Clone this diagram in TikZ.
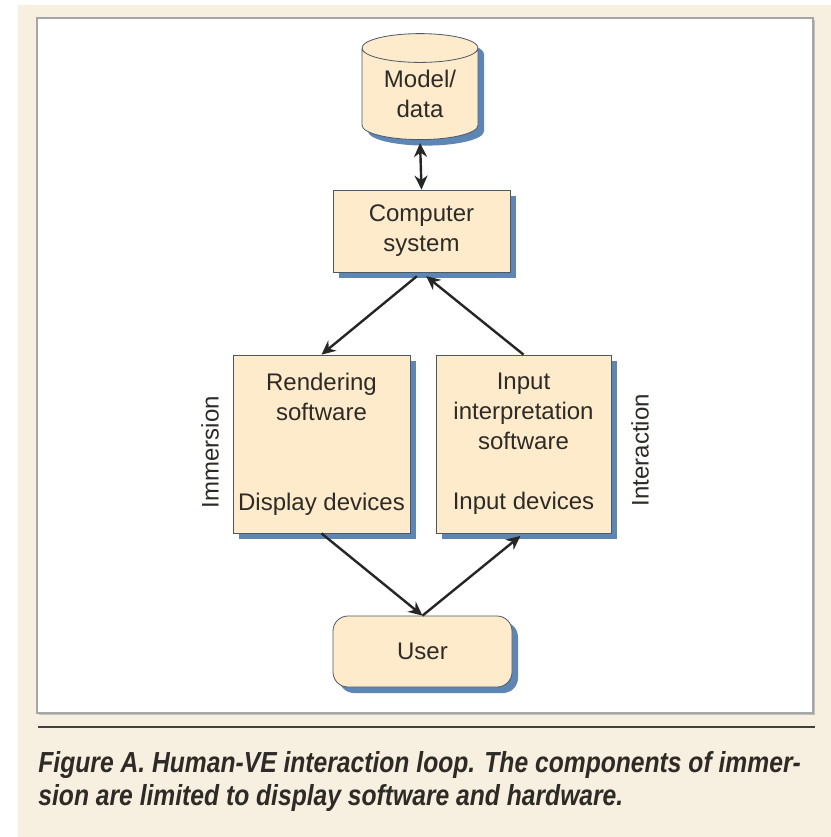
\documentclass[tikz,border=0pt]{standalone}
\usepackage{fontspec}
\usetikzlibrary{arrows.meta,shapes.geometric,shadows,positioning}
\newfontfamily\diagfont{Liberation Sans}
\newfontfamily\capfont[FakeStretch=0.85]{Liberation Sans}
\definecolor{pagebeige}{HTML}{F7EFDF}
\definecolor{boxfill}{HTML}{FDEBCB}
\definecolor{boxline}{HTML}{4A5868}
\definecolor{shadowblue}{HTML}{5E86B5}
\definecolor{inkgray}{HTML}{2E2A26}
\tikzset{
  box/.style={draw=boxline, line width=0.4pt, fill=boxfill, text=inkgray,
    font=\diagfont\fontsize{12}{15}\selectfont, align=center, inner sep=0pt,
    drop shadow={shadow xshift=3pt, shadow yshift=-3pt, fill=shadowblue, opacity=1}},
  side/.style={text=inkgray, font=\diagfont\fontsize{12}{15}\selectfont, rotate=90},
  link/.style={line width=1.2pt, draw=black!85, -{Stealth[length=7pt,width=6.5pt]}},
}
\begin{document}
\begin{tikzpicture}[x=0.5pt, y=-0.5pt]
  % page and panel
  \fill[white] (0,0) rectangle (831,837);
  \fill[pagebeige] (18,5) rectangle (831,837);
  \fill[black!25] (39,20) rectangle (815,715);
  \draw[draw=black!35, fill=white, line width=0.6pt] (37,18) rectangle (813,713);

  % blocks
  \node[box, cylinder, shape border rotate=90, aspect=0.4,
        minimum width=58pt, minimum height=53pt] (data) at (420,94) {Model/\\data};
  \node[box, minimum width=88.5pt, minimum height=41pt] (comp) at (421.5,231) {Computer\\system};
  \node[box, minimum width=88.5pt, minimum height=89pt] (rend) at (321.5,444)
       {Rendering\\software\\[30pt]Display devices};
  \node[box, minimum width=87.5pt, minimum height=89pt] (inp) at (523.5,444)
       {Input\\interpretation\\software\\[15pt]Input devices};
  \node[box, rounded corners=7.5pt, minimum width=89.5pt, minimum height=35.5pt] (user) at (422.5,651.5) {User};

  \node[side] (imm) at (210,452) {Immersion};
  \node[side] (inter) at (640,450) {Interaction};

  % loop
  \draw[link, {Stealth[length=7pt,width=6.5pt]}-{Stealth[length=7pt,width=6.5pt]}, shorten <=1.5pt] (data.south) -- (comp.north);
  \draw[link, shorten <=3pt] (comp.south) -- (rend.north);
  \draw[link, shorten >=3pt] (inp.north) -- (comp.south);
  \draw[link] (rend.south) -- (user.north);
  \draw[link, shorten >=2pt] (user.north) -- (inp.south);

  % caption
  \draw[line width=1pt, draw=black!75] (38,727) -- (815,727);
  \node[anchor=north west, align=left, inner sep=0pt, text=inkgray,
        font=\capfont\bfseries\itshape\fontsize{14.5}{16.5}\selectfont] (caption) at (38,751)
       {Figure A. Human-VE interaction loop. The components of immer-\\
        sion are limited to display software and hardware.};
\end{tikzpicture}
\end{document}
